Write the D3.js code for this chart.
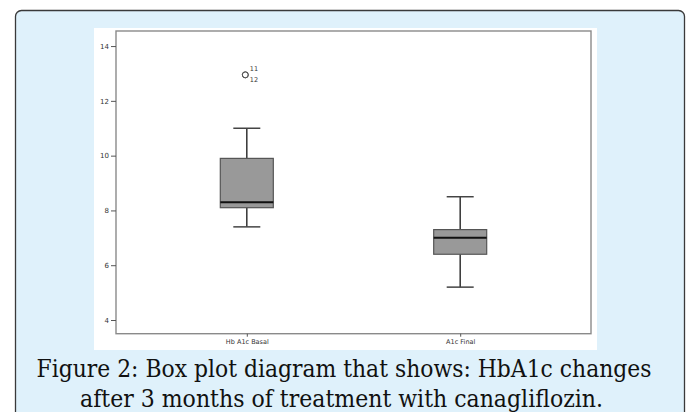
<!DOCTYPE html>
<html>
<head>
<meta charset="utf-8">
<script src="https://cdn.jsdelivr.net/npm/d3@7"></script>
<style>
  body { margin: 0; background: #fff; }
  svg { display: block; }
</style>
</head>
<body>
<script>
// box plot values
const categories = ["Hb A1c Basal", "A1c Final"];
const whiskerLow = [7.4, 5.2];
const q1 = [8.1, 6.4];
const median = [8.3, 7.0];
const q3 = [9.9, 7.3];
const whiskerHigh = [11.0, 8.5];
// outliers (case numbers 11 and 12 overlap)
const outlierCat = [0, 0];
const outlierValues = [12.95, 12.95];
const outlierLabels = ["11", "12"];
const yTicks = [4, 6, 8, 10, 12, 14];
const captionLines = [
  "Figure 2: Box plot diagram that shows: HbA1c changes",
  "after 3 months of treatment with canagliflozin."
];

const width = 687, height = 412;
const frame = {left: 116, right: 591, top: 31, bottom: 333.7};

const svg = d3.select("body").append("svg")
  .attr("width", width)
  .attr("height", height);

// light blue panel with rounded corner
svg.append("rect")
  .attr("x", 15.5).attr("y", 10.5)
  .attr("width", 684 - 15).attr("height", 430)
  .attr("rx", 6)
  .attr("fill", "#dff1fb")
  .attr("stroke", "#3a3a3a")
  .attr("stroke-width", 1.3);

// white picture area
svg.append("rect")
  .attr("x", 94).attr("y", 28)
  .attr("width", 597 - 94).attr("height", 350 - 28)
  .attr("fill", "#fff");

const y = d3.scaleLinear()
  .domain([3.5, 14.55])
  .range([frame.bottom, frame.top]);

const x = d3.scalePoint()
  .domain(categories)
  .range([frame.left, frame.right])
  .padding(0.613);

// frame
svg.append("rect")
  .attr("x", frame.left).attr("y", frame.top)
  .attr("width", frame.right - frame.left)
  .attr("height", frame.bottom - frame.top)
  .attr("fill", "none")
  .attr("stroke", "#8a8a8a")
  .attr("stroke-width", 1.4);

// y axis
const yAxis = svg.append("g")
  .attr("transform", `translate(${frame.left},0)`)
  .call(d3.axisLeft(y).tickValues(yTicks).tickSize(5).tickPadding(2));
yAxis.select(".domain").remove();
yAxis.selectAll("line").attr("stroke", "#555");
yAxis.selectAll("text")
  .attr("font-family", "DejaVu Sans, sans-serif")
  .attr("font-size", 7)
  .attr("fill", "#333");

// x axis
const xAxis = svg.append("g")
  .attr("transform", `translate(0,${frame.bottom})`)
  .call(d3.axisBottom(x).tickSize(3).tickPadding(3));
xAxis.select(".domain").remove();
xAxis.selectAll("line").attr("stroke", "#555");
xAxis.selectAll("text")
  .attr("font-family", "DejaVu Sans, sans-serif")
  .attr("font-size", 6.5)
  .attr("fill", "#333");

const boxW = 53, capW = 27;
const boxes = svg.append("g")
  .selectAll("g")
  .data(categories.map((c, i) => ({c, i})))
  .join("g");

// whiskers
boxes.append("line")
  .attr("x1", d => x(d.c)).attr("x2", d => x(d.c))
  .attr("y1", d => y(whiskerHigh[d.i])).attr("y2", d => y(q3[d.i]))
  .attr("stroke", "#333").attr("stroke-width", 1.5);
boxes.append("line")
  .attr("x1", d => x(d.c)).attr("x2", d => x(d.c))
  .attr("y1", d => y(q1[d.i])).attr("y2", d => y(whiskerLow[d.i]))
  .attr("stroke", "#333").attr("stroke-width", 1.5);
boxes.append("line")
  .attr("x1", d => x(d.c) - capW / 2).attr("x2", d => x(d.c) + capW / 2)
  .attr("y1", d => y(whiskerHigh[d.i])).attr("y2", d => y(whiskerHigh[d.i]))
  .attr("stroke", "#444").attr("stroke-width", 1.5);
boxes.append("line")
  .attr("x1", d => x(d.c) - capW / 2).attr("x2", d => x(d.c) + capW / 2)
  .attr("y1", d => y(whiskerLow[d.i])).attr("y2", d => y(whiskerLow[d.i]))
  .attr("stroke", "#444").attr("stroke-width", 1.5);

// box
boxes.append("rect")
  .attr("x", d => x(d.c) - boxW / 2)
  .attr("width", boxW)
  .attr("y", d => y(q3[d.i]))
  .attr("height", d => y(q1[d.i]) - y(q3[d.i]))
  .attr("fill", "#999")
  .attr("stroke", "#555")
  .attr("stroke-width", 1.2);

// median
boxes.append("line")
  .attr("x1", d => x(d.c) - boxW / 2).attr("x2", d => x(d.c) + boxW / 2)
  .attr("y1", d => y(median[d.i])).attr("y2", d => y(median[d.i]))
  .attr("stroke", "#111").attr("stroke-width", 2);

// outliers
const outs = svg.append("g")
  .selectAll("g")
  .data(outlierValues.map((v, i) => ({v, i})))
  .join("g");
outs.append("circle")
  .attr("cx", d => x(categories[outlierCat[d.i]]) - 1.5)
  .attr("cy", d => y(d.v))
  .attr("r", 3)
  .attr("fill", "none")
  .attr("stroke", "#555")
  .attr("stroke-width", 1);
outs.append("text")
  .attr("x", d => x(categories[outlierCat[d.i]]) + 3)
  .attr("y", d => y(d.v) + (d.i === 0 ? -4 : 7.5))
  .attr("font-family", "DejaVu Sans, sans-serif")
  .attr("font-size", 6.5)
  .attr("fill", "#333")
  .text(d => outlierLabels[d.i]);

// caption
const capWidths = [615, 523];
const capCenters = [344, 341.5];
svg.append("g")
  .selectAll("text")
  .data(captionLines)
  .join("text")
  .attr("x", (d, i) => capCenters[i])
  .attr("y", (d, i) => 376.5 + i * 30)
  .attr("text-anchor", "middle")
  .attr("font-family", "DejaVu Serif, serif")
  .attr("font-stretch", "condensed")
  .attr("font-size", 24.5)
  .attr("fill", "#111")
  .attr("textLength", (d, i) => capWidths[i])
  .attr("lengthAdjust", "spacingAndGlyphs")
  .text(d => d);
</script>
</body>
</html>
